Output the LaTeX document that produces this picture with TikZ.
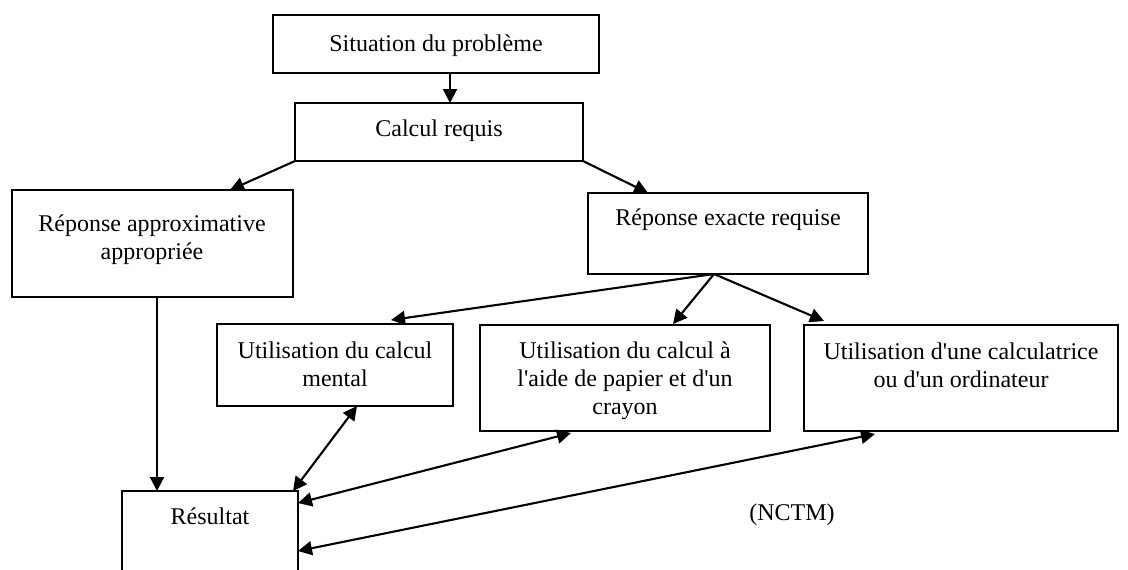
\documentclass[tikz,border=0pt]{standalone}
\usepackage{fontspec}
\setmainfont{Liberation Serif}[Ligatures=TeXOff]
\usetikzlibrary{arrows.meta,calc}
\begin{document}
\begin{tikzpicture}[x=0.5pt,y=-0.5pt,
  box/.style={draw, line width=0.75pt, inner sep=0pt, outer sep=0pt},
  txt/.style={align=center, inner sep=0pt, font=\fontsize{12pt}{13.9pt}\selectfont},
  arr/.style={line width=1.05pt, -{Triangle[length=7pt,width=7pt]}},
  darr/.style={line width=1.05pt, {Triangle[length=7pt,width=7pt]}-{Triangle[length=7pt,width=7pt]}}]
\useasboundingbox (0,0) rectangle (1128,569);
\clip (0,0) rectangle (1128,569);

% boxes
\node[box, minimum width=163pt, minimum height=29pt] (b1) at (436,44) {};
\node[box, minimum width=144pt, minimum height=29pt] (b2) at (439,132) {};
\node[box, minimum width=140.5pt, minimum height=53.5pt] (b3) at (152.5,243.5) {};
\node[box, minimum width=140pt, minimum height=40.5pt] (b4) at (728,233.5) {};
\node[box, minimum width=118pt, minimum height=41pt] (b5) at (335,365) {};
\node[box, minimum width=145pt, minimum height=53pt] (b6) at (625,378) {};
\node[box, minimum width=157pt, minimum height=53pt] (b7) at (961,378) {};
\node[box, minimum width=88pt, minimum height=64.5pt] (b8) at (210,555.5) {};

% texts
\node[txt] (t1) at (436,46) {Situation du problème};
\node[txt] (t2) at (439,131) {Calcul requis};
\node[txt] (t3) at (152,240) {Réponse approximative\\appropriée};
\node[txt] (t4) at (728,220) {Réponse exacte requise};
\node[txt] (t5) at (335,364) {Utilisation du calcul\\mental};
\node[txt] (t6) at (625,381) {Utilisation du calcul à\\l'aide de papier et d'un\\crayon};
\node[txt] (t7) at (961,365) {Utilisation d'une calculatrice\\ou d'un ordinateur};
\node[txt] (t8) at (210,516) {Résultat};
\node[txt] (t9) at (792,515) {(NCTM)};

% connectors
\coordinate (a1s) at ($(b1.south)+(14,0)$);
\draw[arr] (a1s) -- (a1s |- b2.north);
\draw[arr] (b2.south west) -- ($(b3.north west)+(218,0)$);
\draw[arr] (b2.south east) -- ($(b4.north west)+(60,0)$);
\coordinate (c4) at ($(b4.south west)+(126,0)$);
\draw[arr] (c4) -- ($(b5.north west)+(174,-4)$);
\draw[arr] (c4) -- ($(b6.north west)+(193,-1)$);
\draw[arr] (c4) -- ($(b7.north west)+(20,-4)$);
\coordinate (a7s) at ($(b3.south west)+(145,0)$);
\draw[arr] (a7s) -- (a7s |- b8.north);
\draw[darr] ($(b5.south west)+(140,0)$) -- ($(b8.north east)+(-5,0)$);
\draw[darr] ($(b8.north east)+(0,12)$) -- ($(b6.south west)+(91,2)$);
\draw[darr] ($(b8.north east)+(0,60)$) -- ($(b7.south west)+(71,3)$);
\end{tikzpicture}
\end{document}
